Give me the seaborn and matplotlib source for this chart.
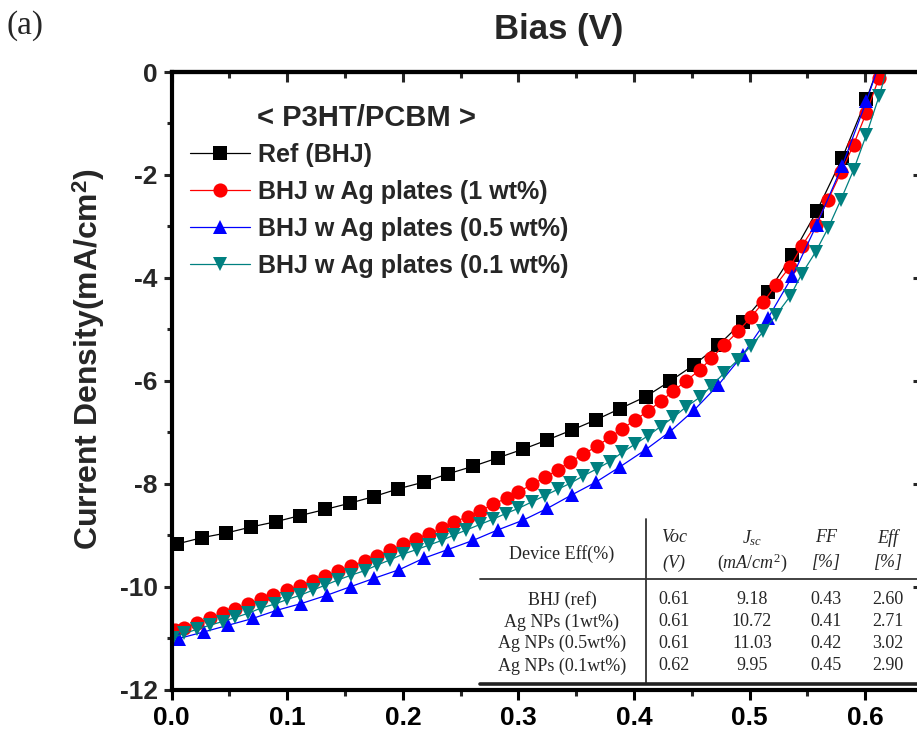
import matplotlib
matplotlib.use("Agg")
import matplotlib.pyplot as plt
from matplotlib.ticker import MultipleLocator
import seaborn as sns

# ---------------- data ----------------
ref_v = [0.005, 0.026, 0.047, 0.069, 0.090, 0.111, 0.133, 0.154, 0.175, 0.196,
         0.218, 0.239, 0.261, 0.282, 0.304, 0.325, 0.346, 0.367, 0.388, 0.410,
         0.431, 0.452, 0.473, 0.494, 0.516, 0.537, 0.558, 0.580, 0.601, 0.622]
ref_j = [-9.17, -9.05, -8.96, -8.84, -8.74, -8.62, -8.50, -8.38, -8.25, -8.10,
         -7.97, -7.81, -7.66, -7.50, -7.33, -7.15, -6.96, -6.76, -6.54, -6.31,
         -6.01, -5.69, -5.31, -4.85, -4.28, -3.55, -2.71, -1.68, -0.53, 0.75]

ag1_v = [0.003, 0.011, 0.022, 0.033, 0.044, 0.055, 0.066, 0.077, 0.088, 0.100,
         0.111, 0.122, 0.133, 0.144, 0.155, 0.167, 0.178, 0.189, 0.200, 0.211,
         0.223, 0.234, 0.244, 0.256, 0.267, 0.278, 0.290, 0.300, 0.312, 0.323,
         0.334, 0.345, 0.356, 0.368, 0.379, 0.390, 0.401, 0.412, 0.423, 0.434,
         0.445, 0.457, 0.467, 0.478, 0.490, 0.501, 0.512, 0.523, 0.535, 0.545,
         0.557, 0.568, 0.579, 0.590, 0.601, 0.612]
ag1_j = [-10.85, -10.80, -10.70, -10.62, -10.52, -10.44, -10.34, -10.25, -10.17, -10.07,
         -9.98, -9.89, -9.79, -9.70, -9.60, -9.50, -9.40, -9.29, -9.18, -9.07,
         -8.97, -8.87, -8.75, -8.64, -8.53, -8.40, -8.28, -8.16, -8.01, -7.88,
         -7.73, -7.57, -7.43, -7.27, -7.10, -6.93, -6.76, -6.59, -6.40, -6.20,
         -6.00, -5.79, -5.56, -5.31, -5.04, -4.77, -4.47, -4.13, -3.78, -3.39,
         -2.97, -2.48, -1.95, -1.41, -0.79, -0.11]

ag05_v = [0.006, 0.028, 0.049, 0.070, 0.091, 0.112, 0.134, 0.155, 0.175, 0.197,
          0.218, 0.239, 0.261, 0.282, 0.304, 0.325, 0.346, 0.367, 0.388, 0.410,
          0.431, 0.452, 0.473, 0.494, 0.516, 0.537, 0.558, 0.580, 0.601, 0.622]
ag05_j = [-11.01, -10.88, -10.75, -10.62, -10.46, -10.33, -10.17, -10.00, -9.84, -9.67,
          -9.45, -9.28, -9.10, -8.90, -8.71, -8.48, -8.22, -7.97, -7.67, -7.34,
          -6.99, -6.57, -6.08, -5.50, -4.78, -3.97, -2.97, -1.83, -0.57, 0.80]

ag01_v = [0.001, 0.011, 0.022, 0.033, 0.044, 0.055, 0.066, 0.077, 0.089, 0.100,
          0.111, 0.122, 0.133, 0.144, 0.155, 0.167, 0.178, 0.189, 0.200, 0.212,
          0.223, 0.234, 0.244, 0.255, 0.267, 0.278, 0.289, 0.300, 0.312, 0.323,
          0.334, 0.345, 0.356, 0.368, 0.379, 0.390, 0.401, 0.412, 0.423, 0.434,
          0.445, 0.457, 0.467, 0.478, 0.490, 0.501, 0.512, 0.523, 0.535, 0.545,
          0.557, 0.568, 0.579, 0.590, 0.601, 0.612, 0.624]
ag01_j = [-10.99, -10.91, -10.83, -10.75, -10.68, -10.60, -10.52, -10.42, -10.34, -10.25,
          -10.17, -10.07, -9.97, -9.87, -9.78, -9.69, -9.58, -9.48, -9.37, -9.28,
          -9.19, -9.10, -9.00, -8.90, -8.79, -8.69, -8.58, -8.48, -8.35, -8.23,
          -8.11, -7.99, -7.85, -7.71, -7.57, -7.39, -7.23, -7.07, -6.89, -6.71,
          -6.51, -6.32, -6.10, -5.85, -5.59, -5.33, -5.04, -4.72, -4.36, -3.93,
          -3.50, -3.03, -2.48, -1.90, -1.22, -0.47, 0.45]

labels = ["Ref (BHJ)", "BHJ w Ag plates (1 wt%)",
          "BHJ w Ag plates (0.5 wt%)", "BHJ w Ag plates (0.1 wt%)"]

x_ticks = [0.0, 0.1, 0.2, 0.3, 0.4, 0.5, 0.6]
x_ticklabels = ["0.0", "0.1", "0.2", "0.3", "0.4", "0.5", "0.6"]
y_ticks = [-12, -10, -8, -6, -4, -2, 0]
y_ticklabels = ["-12", "-10", "-8", "-6", "-4", "-2", "0"]

tbl_devices = ["BHJ (ref)", "Ag NPs (1wt%)", "Ag NPs (0.5wt%)", "Ag NPs (0.1wt%)"]
tbl_voc = ["0.61", "0.61", "0.61", "0.62"]
tbl_jsc = ["9.18", "10.72", "11.03", "9.95"]
tbl_ff = ["0.43", "0.41", "0.42", "0.45"]
tbl_eff = ["2.60", "2.71", "3.02", "2.90"]

# ---------------- style ----------------
sns.set_style("ticks")
plt.rcParams["font.family"] = ["Liberation Sans", "DejaVu Sans"]
plt.rcParams["axes.unicode_minus"] = False
plt.rcParams["mathtext.fontset"] = "custom"
plt.rcParams["mathtext.rm"] = "Liberation Serif"
plt.rcParams["mathtext.it"] = "Liberation Serif:italic"
plt.rcParams["mathtext.bf"] = "Liberation Sans:bold"

W, H = 917, 735
fig = plt.figure(figsize=(W / 100, H / 100), dpi=100)
L, R, T, B = 171.7, 923.0, 72.0, 689.5
ax = fig.add_axes([L / W, 1 - B / H, (R - L) / W, (B - T) / H])

def axx(px):
    return (px - L) / (R - L)

def axy(py):
    return (B - py) / (B - T)

series = [
    (ref_v, ref_j, labels[0], "#000000", "s", 9.4),
    (ag1_v, ag1_j, labels[1], "#FF0000", "o", 10.2),
    (ag05_v, ag05_j, labels[2], "#0000FF", "^", 10.2),
    (ag01_v, ag01_j, labels[3], "#008080", "v", 10.2),
]
for v, j, lab, col, mk, ms in series:
    sns.lineplot(x=v, y=j, ax=ax, color=col, marker=mk, markersize=ms,
                 markeredgecolor=col, markeredgewidth=0, linewidth=0.9,
                 label=lab, sort=False, estimator=None)

ax.set_xlim(0, 0.65)
ax.set_ylim(-12, 0)

ax.set_xticks(x_ticks)
ax.set_xticklabels(x_ticklabels, fontsize=19, fontweight="bold")
ax.set_yticks(y_ticks)
ax.set_yticklabels(y_ticklabels, fontsize=19, fontweight="bold")
ax.xaxis.set_minor_locator(MultipleLocator(0.05))
ax.yaxis.set_minor_locator(MultipleLocator(1))
ax.tick_params(axis="x", which="major", direction="out", length=7, width=2.2,
               pad=5, top=False, colors="black")
ax.tick_params(axis="x", which="minor", direction="out", length=4, width=2.2, top=False)
ax.tick_params(axis="y", which="major", direction="out", length=6, width=2.2,
               pad=4, right=False)
ax.tick_params(axis="y", which="minor", direction="out", length=3.5, width=2.2, right=False)

for s in ax.spines.values():
    s.set_linewidth(3.0)
    s.set_color("black")

# top axis: inward ticks, no labels
secx = ax.secondary_xaxis("top")
secx.set_xticks(x_ticks)
secx.xaxis.set_minor_locator(MultipleLocator(0.05))
secx.tick_params(which="major", direction="in", length=7, width=2.2, labeltop=False)
secx.tick_params(which="minor", direction="in", length=4, width=2.2)
secx.spines["top"].set_linewidth(3.0)

# right axis: inward ticks, no labels
secy = ax.secondary_yaxis("right")
secy.set_yticks(y_ticks)
secy.tick_params(which="major", direction="in", length=7, width=2.2, labelright=False)
secy.tick_params(which="minor", length=0)
secy.spines["right"].set_linewidth(3.0)

# axis labels
ax.set_xlabel("Bias (V)", fontsize=25, fontweight="bold")
ax.xaxis.set_label_position("top")
ax.xaxis.label.set_va("center")
ax.xaxis.set_label_coords(axx(559), axy(30))

ax.set_ylabel(r"Current Density(mA/cm$^{\mathbf{2}}$)", fontsize=23, fontweight="bold")
ax.yaxis.label.set_va("center")
ax.yaxis.label.set_ha("center")
ax.yaxis.set_label_coords(axx(89), axy(359))

# legend
ax.text(axx(257), axy(118), "< P3HT/PCBM >", transform=ax.transAxes,
        fontsize=21, fontweight="bold", ha="left", va="center")
ax.legend(loc="upper left", bbox_to_anchor=(axx(190), axy(143)), frameon=False,
          prop={"size": 18, "weight": "bold"}, handlelength=2.4,
          handletextpad=0.33, labelspacing=0.52, borderpad=0, borderaxespad=0)

# table
tfont = dict(family="Liberation Serif", fontsize=13, transform=ax.transAxes,
             ha="center", va="center")
ax.plot([axx(646), axx(646)], [axy(519), axy(683)], color="#333333", lw=1.3,
        transform=ax.transAxes, clip_on=False)
ax.plot([axx(480), 1.0], [axy(579), axy(579)], color="#333333", lw=1.3,
        transform=ax.transAxes, clip_on=False)
ax.plot([axx(480), 1.0], [axy(683.5), axy(683.5)], color="#222222", lw=2.6,
        transform=ax.transAxes, clip_on=False)

ax.text(axx(562), axy(554), "Device Eff(%)", **tfont)
col_x = [674, 752, 826, 888]
head1 = ["Voc", r"$J_{sc}$", "FF", "Eff"]
head2 = ["(V)", r"$(mA/cm^{2})$", "[%]", "[%]"]
for cx, h1, h2 in zip(col_x, head1, head2):
    ax.text(axx(cx), axy(538), h1, fontstyle="italic", **tfont)
    ax.text(axx(cx), axy(563), h2, fontstyle="italic", **tfont)

row_y = [600, 622, 643, 666]
for i, ry in enumerate(row_y):
    ax.text(axx(562), axy(ry), tbl_devices[i], **tfont)
    for cx, col in zip(col_x, [tbl_voc, tbl_jsc, tbl_ff, tbl_eff]):
        ax.text(axx(cx), axy(ry), col[i], **tfont)

fig.text(7 / W, 1 - 26 / H, "(a)", family="Liberation Serif", fontsize=24,
         ha="left", va="center")

fig.savefig("out.png", dpi=100)
